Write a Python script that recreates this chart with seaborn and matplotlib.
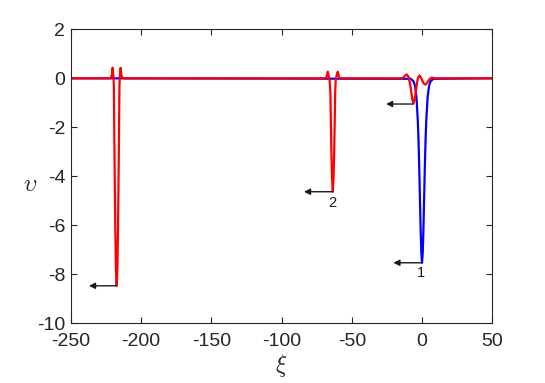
import numpy as np
import pandas as pd
import matplotlib
matplotlib.use("Agg")
import matplotlib.pyplot as plt
import seaborn as sns

# ---- data ----
blue_xi = [-250, -8, -6, -5, -4, -3, -2.5, -2, -1.5, -1, -0.5, 0,
           0.5, 1, 1.5, 2, 2.5, 3, 4, 5, 6, 8, 50]
blue_v = [0, -0.02, -0.13, -0.31, -0.75, -1.73, -2.54, -3.60, -4.86, -6.14, -7.12, -7.53,
          -7.12, -6.14, -4.86, -3.60, -2.54, -1.73, -0.75, -0.31, -0.13, -0.02, 0]

red_xi = [-250,
          -222.3, -221.5, -220.7, -220.15, -219.6, -219.3, -219.1, -218.9, -218.7, -218.3, -217.8, -217.3,
          -216.8, -216.3, -215.9, -215.7, -215.5, -215.3, -215.0, -214.45, -213.9, -213.1, -212.3,
          -68.5, -67.7, -67.05, -66.4, -65.8, -65.25, -64.9, -64.5, -64.0, -63.5,
          -63.0, -62.5, -62.1, -61.75, -61.4, -60.9, -59.95, -59.3, -58.5,
          -14, -12.5, -10.9, -9.5, -8.0, -7.0, -6.1, -5.0, -4.0, -3.0, -1.8, -0.5,
          1.0, 2.5, 4.0, 5.5, 7.0, 9.0,
          50]
red_v = [0,
         0, 0.02, 0.12, 0.43, 0.10, -0.3, -1.4, -2.7, -3.8, -6.0, -7.8, -8.47,
         -7.8, -6.0, -3.8, -2.7, -1.4, -0.3, 0.10, 0.43, 0.12, 0.02, 0,
         0, 0.10, 0.27, 0.10, -0.05, -0.5, -1.6, -3.0, -4.1, -4.63,
         -4.1, -3.0, -1.6, -0.5, -0.05, 0.10, 0.27, 0.10, 0,
         0, 0.08, 0.16, 0.05, -0.40, -0.85, -1.02, -0.80, -0.35, 0.0, 0.12, 0.0,
         -0.20, -0.26, -0.15, -0.02, 0.03, 0.0,
         0]

arrow_x0 = [0.0, -63.5, -217.3, -6.2]
arrow_y = [-7.53, -4.63, -8.47, -1.05]
arrow_x1 = [-20.4, -84.0, -237.0, -25.6]

labels = ["1", "2"]
label_x = [-0.9, -63.5]
label_y = [-7.95, -5.1]

xticks = [-250, -200, -150, -100, -50, 0, 50]
yticks = [-10, -8, -6, -4, -2, 0, 2]

# ---- plotting ----
sns.set_theme(style="ticks")
plt.rcParams['font.family'] = ['Liberation Sans', 'DejaVu Sans']
plt.rcParams['mathtext.fontset'] = 'cm'

fig = plt.figure(figsize=(5.45, 3.83), dpi=100)
ax = fig.add_axes([70.7 / 545, 1 - 323.3 / 383, 421.6 / 545, 294 / 383])

df_b = pd.DataFrame({"xi": blue_xi, "v": blue_v})
df_r = pd.DataFrame({"xi": red_xi, "v": red_v})
sns.lineplot(data=df_b, x="xi", y="v", ax=ax, color=(0, 0, 1), lw=1.6,
             estimator=None, sort=False)
sns.lineplot(data=df_r, x="xi", y="v", ax=ax, color=(1, 0, 0), lw=1.6,
             estimator=None, sort=False)

for x0, y0, x1 in zip(arrow_x0, arrow_y, arrow_x1):
    ax.annotate("", xy=(x1, y0), xytext=(x0, y0),
                arrowprops=dict(arrowstyle='-|>', color='k', lw=1.0,
                                mutation_scale=9, shrinkA=0, shrinkB=0))

for t, x, y in zip(labels, label_x, label_y):
    ax.text(x, y, t, ha='center', va='center', fontsize=10.5, color='k')

ax.set_xlim(-250, 50)
ax.set_ylim(-10, 2)
ax.set_xticks(xticks)
ax.set_yticks(yticks)
ax.set_xticklabels([str(v) for v in xticks])
ax.set_yticklabels([str(v) for v in yticks])

axcol = (0.15, 0.15, 0.15)
for s in ax.spines.values():
    s.set_visible(True)
    s.set_color(axcol)
    s.set_linewidth(0.8)
ax.tick_params(direction='in', top=True, right=True, length=4, width=0.8,
               colors=axcol, labelsize=14, labelcolor=axcol)
ax.tick_params(axis='x', pad=7)
ax.tick_params(axis='y', pad=4)

ax.set_xlabel(r'$\xi$', fontsize=17, color=axcol)
ax.set_ylabel(r'$\upsilon$', fontsize=17, color=axcol, rotation=0)
ax.xaxis.set_label_coords(0.5, -0.145)
ax.yaxis.set_label_coords(-0.097, 0.47)
ax.yaxis.label.set_va('center')
ax.yaxis.label.set_ha('center')
ax.xaxis.label.set_va('center')

fig.savefig("out.png", dpi=100)
